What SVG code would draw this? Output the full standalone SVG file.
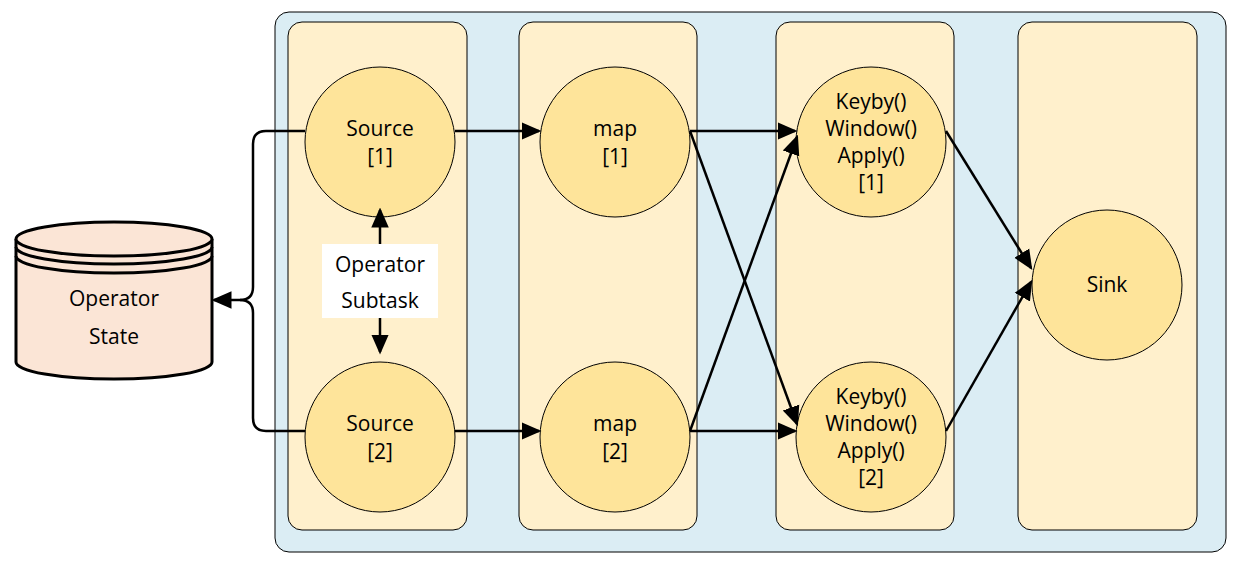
<svg xmlns="http://www.w3.org/2000/svg" width="1236" height="562" viewBox="0 0 1236 562">
<style>
text{font-family:"Open Sans","Noto Sans",sans-serif;font-size:21px;fill:#000;text-anchor:middle}
.col{fill:#fff0cc;stroke:#000;stroke-width:1}
.op{fill:#fee49a;stroke:#000;stroke-width:1}
.c{fill:none;stroke:#000;stroke-width:2.5}
</style>
<defs><marker id="a" markerWidth="8" markerHeight="8" refX="7" refY="4" orient="auto" markerUnits="strokeWidth"><path d="M0,0.5L8,4L0,7.5z" fill="#000"/></marker></defs>
<rect x="275" y="12" width="951" height="540" rx="14" fill="#dbedf4" stroke="#000"/>
<rect class="col" x="288" y="22" width="179" height="508" rx="14"/>
<rect class="col" x="519" y="22" width="178" height="508" rx="14"/>
<rect class="col" x="776" y="22" width="178" height="508" rx="14"/>
<rect class="col" x="1018" y="22" width="179" height="508" rx="14"/>
<g id="state">
<path d="M16,239V362A98,17 0 0 0 212,362V239" fill="#fbe5d6" stroke="#000" stroke-width="3"/>
<ellipse cx="114" cy="239" rx="98" ry="17" fill="#fbe5d6" stroke="#000" stroke-width="3"/>
<path d="M16,247A98,17 0 0 0 212,247M16,256A98,17 0 0 0 212,256" fill="none" stroke="#000" stroke-width="3"/>
<text x="114" y="306" font-size="24">Operator</text><text x="114" y="344" font-size="24">State</text>
</g>
<g id="source1"><circle class="op" cx="380" cy="142" r="75"/><text x="380" y="136">Source</text><text x="380" y="164">[1]</text></g>
<g id="source2"><circle class="op" cx="380" cy="437" r="75"/><text x="380" y="431">Source</text><text x="380" y="459">[2]</text></g>
<g id="map1"><circle class="op" cx="615" cy="142" r="75"/><text x="615" y="136">map</text><text x="615" y="164">[1]</text></g>
<g id="map2"><circle class="op" cx="615" cy="437" r="75"/><text x="615" y="431">map</text><text x="615" y="459">[2]</text></g>
<g id="kw1"><circle class="op" cx="871" cy="142" r="75"/><text x="871" y="109">Keyby()</text><text x="871" y="136">Window()</text><text x="871" y="163">Apply()</text><text x="871" y="190">[1]</text></g>
<g id="kw2"><circle class="op" cx="871" cy="437" r="75"/><text x="871" y="404">Keyby()</text><text x="871" y="431">Window()</text><text x="871" y="458">Apply()</text><text x="871" y="485">[2]</text></g>
<g id="sink"><circle class="op" cx="1107" cy="285" r="75"/><text x="1107" y="292">Sink</text></g>
<g id="label"><rect x="322" y="244" width="116" height="74" fill="#fff"/><text x="380" y="272" font-size="24">Operator</text><text x="380" y="308" font-size="24">Subtask</text></g>
<g id="connectors">
<path class="c" d="M305,131H266Q253,131 253,144V287Q253,300 240,300H214" marker-end="url(#a)"/>
<path class="c" d="M305,431H266Q253,431 253,418V313Q253,300 240,300"/>
<path class="c" d="M380,244V210" marker-end="url(#a)"/>
<path class="c" d="M380,318V352" marker-end="url(#a)"/>
<path class="c" d="M455,131H539" marker-end="url(#a)"/>
<path class="c" d="M455,431H539" marker-end="url(#a)"/>
<path class="c" d="M690,131H795" marker-end="url(#a)"/>
<path class="c" d="M690,431H795" marker-end="url(#a)"/>
<path class="c" d="M690,131L797,424" marker-end="url(#a)"/>
<path class="c" d="M690,431L797,137" marker-end="url(#a)"/>
<path class="c" d="M946,131L1031,268" marker-end="url(#a)"/>
<path class="c" d="M946,431L1031,282" marker-end="url(#a)"/>
</g>
</svg>
